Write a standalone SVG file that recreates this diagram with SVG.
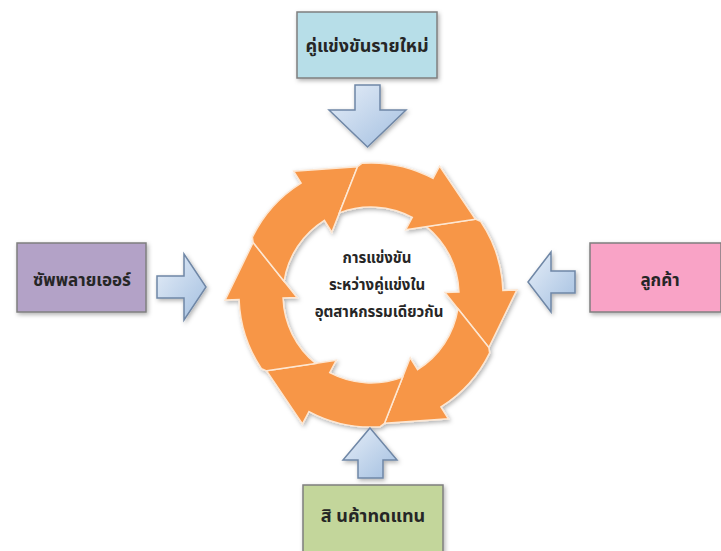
<svg xmlns="http://www.w3.org/2000/svg" width="721" height="551" viewBox="0 0 721 551">
<style>
.box{stroke:#7f7f7f;stroke-width:1.5}
.lbl{font-family:"Noto Sans Thai","Noto Sans","DejaVu Sans",sans-serif;font-weight:bold;fill:#262626;text-anchor:middle}
.blk{fill:url(#blue);stroke:#6f87a6;stroke-width:1.5;stroke-linejoin:miter}
.seg{fill:#f79646;stroke:#fde7d3;stroke-width:1.5;stroke-linejoin:miter}
</style>
<defs>
<linearGradient id="blue" x1="0" y1="0" x2="1" y2="1">
<stop offset="0" stop-color="#e6eef8"/>
<stop offset="1" stop-color="#a3bfe0"/>
</linearGradient>
<filter id="sh" x="-20%" y="-20%" width="140%" height="140%">
<feDropShadow dx="1.5" dy="2" stdDeviation="2" flood-color="#000" flood-opacity="0.3"/>
</filter>
<path id="arc" d="M57.67,-66.48 L106.94,-72.14 L111.94,-69.95 A132,132 0 0 1 132,0 L146,0 L115.95,56.55 L74,0 L88,0 A88,88 0 0 0 57.67,-66.48 Z"/>
</defs>
<rect width="721" height="551" fill="#ffffff"/>
<g id="cycle" filter="url(#sh)" transform="translate(371,295)">
<use href="#arc" class="seg" transform="rotate(-2)"/>
<use href="#arc" class="seg" transform="rotate(58)"/>
<use href="#arc" class="seg" transform="rotate(118)"/>
<use href="#arc" class="seg" transform="rotate(178)"/>
<use href="#arc" class="seg" transform="rotate(238)"/>
<use href="#arc" class="seg" transform="rotate(298)"/>
</g>
<g id="center">
<text class="lbl" x="377" y="263" font-size="15">การแข่งขัน</text>
<text class="lbl" x="377" y="290" font-size="15">ระหว่างคู่แข่งใน</text>
<text class="lbl" x="379" y="317" font-size="15">อุตสาหกรรมเดียวกัน</text>
</g>
<g id="new-entrants">
<rect class="box" x="297" y="12" width="140" height="66" fill="#b7dee8" filter="url(#sh)"/>
<text class="lbl" x="367" y="52" font-size="18">คู่แข่งขันรายใหม่</text>
</g>
<g id="suppliers">
<rect class="box" x="17" y="243" width="129" height="69" fill="#b3a2c7" filter="url(#sh)"/>
<text class="lbl" x="82" y="286" font-size="17">ซัพพลายเออร์</text>
</g>
<g id="customers">
<rect class="box" x="590" y="243" width="131" height="69" fill="#f9a3c6" filter="url(#sh)"/>
<text class="lbl" x="660" y="286" font-size="17">ลูกค้า</text>
</g>
<g id="substitutes">
<rect class="box" x="303" y="485" width="140" height="70" fill="#c3d69b" filter="url(#sh)"/>
<text class="lbl" x="373" y="522" font-size="18">สิ นค้าทดแทน</text>
</g>
<g id="connectors" filter="url(#sh)">
<path class="blk" d="M355,85 H380 V110 H406 L367.5,147 L329,110 H355 Z"/>
<path class="blk" d="M370,428 L397,460 H383 V478 H358 V460 H343 Z"/>
<path class="blk" d="M157,276 H184 V254 L206,287 L184,320 V298 H157 Z"/>
<path class="blk" d="M528,282 L551,252 V271 H575 V293 H551 V312 Z"/>
</g>
</svg>
